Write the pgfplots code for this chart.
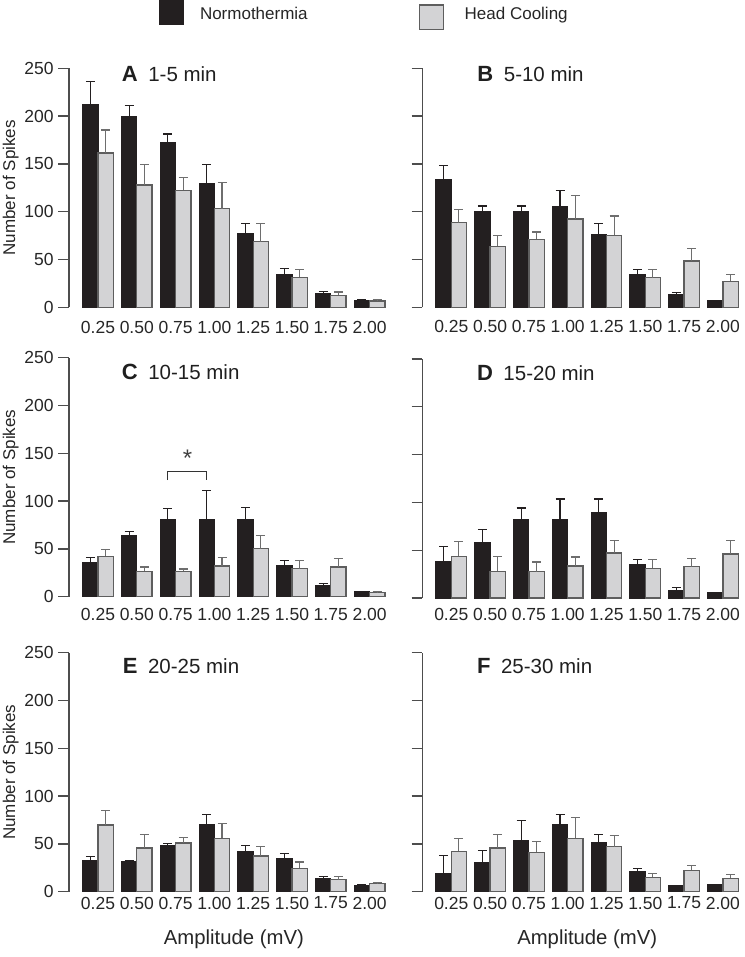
\documentclass[border=0pt]{standalone}
\usepackage{fontspec}
\setmainfont{Liberation Sans}
\usepackage{pgfplots}
\usepackage{pgfplotstable}
\pgfplotsset{compat=1.18}

\definecolor{nblack}{HTML}{231F20}
\definecolor{hfill}{HTML}{D3D3D5}
\definecolor{hdraw}{HTML}{5E5E5E}
\definecolor{herr}{HTML}{6E6E6E}
\definecolor{axisgray}{HTML}{4D4D4D}

% x  n  ne  h  he
\pgfplotstableread{
x n ne h he
0 211.8 24.7 161.5 23.9
1 200.0 11.5 128.0 21.3
2 171.9 9.4 122.2 13.2
3 129.5 19.8 103.1 27.5
4 76.7 11.1 68.8 18.4
5 34.7 5.6 31.3 8.0
6 13.9 2.4 12.5 3.5
7 7.3 0.7 6.6 1.4
}\dataA
\pgfplotstableread{
x n ne h he
0 133.3 15.3 88.5 13.5
1 100.0 5.9 63.9 11.1
2 100.0 5.9 71.2 7.6
3 105.6 16.3 92.4 24.3
4 76.0 11.5 75.3 20.2
5 34.0 5.6 30.9 8.3
6 13.5 2.1 48.3 12.8
7 6.9 0.4 27.1 7.3
}\dataB
\pgfplotstableread{
x n ne h he
0 36.0 4.6 42.3 6.7
1 64.3 3.9 26.6 4.5
2 80.4 11.9 26.6 2.4
3 80.4 31.1 32.2 8.7
4 80.4 12.6 50.3 13.7
5 32.9 5.2 29.4 8.4
6 11.9 1.7 31.1 8.8
7 4.9 0.3 4.2 1.0
}\dataC
\pgfplotstableread{
x n ne h he
0 37.7 16.3 43.6 15.7
1 58.2 13.3 27.9 15.7
2 81.6 12.5 27.5 10.2
3 81.6 22.0 33.5 9.4
4 89.6 14.0 47.1 13.2
5 34.5 5.6 31.0 9.1
6 7.7 3.5 32.8 8.7
7 5.6 0.0 46.0 14.3
}\dataD
\pgfplotstableread{
x n ne h he
0 32.9 3.8 69.9 15.1
1 31.1 1.4 45.8 13.6
2 48.3 2.4 51.0 5.6
3 70.6 10.5 55.9 15.1
4 42.0 5.9 37.4 9.8
5 34.6 5.3 24.5 6.6
6 14.0 2.1 12.6 3.1
7 6.6 0.7 8.7 0.7
}\dataE
\pgfplotstableread{
x n ne h he
0 18.8 19.2 42.1 13.3
1 30.6 12.9 45.6 13.9
2 54.0 20.2 41.1 11.8
3 70.7 10.1 55.7 21.6
4 51.9 7.6 47.0 12.2
5 21.2 3.2 15.0 3.8
6 6.3 0.0 22.3 5.2
7 7.0 0.3 13.9 3.9
}\dataF

\pgfplotsset{
  panel/.style={
    width=329.8pt, height=239pt, scale only axis,
    anchor=south west,
    xmin=-0.747, xmax=7.753, ymin=0, ymax=250,
    axis x line*=bottom, axis y line*=left,
    x axis line style={draw=none},
    xtick={0,...,7},
    xticklabels={0.25,0.50,0.75,1.00,1.25,1.50,1.75,2.00},
    xtick style={draw=none},
    ytick={0,50,...,250},
    tick align=outside, major tick length=10.7pt,
    y axis line style={line width=1.3pt, color=axisgray},
    ytick style={line width=1.3pt, color=axisgray},
    tick label style={font=\fontsize{17.5}{20}\selectfont, inner sep=0pt, text=black!85},
    yticklabel style={anchor=east, xshift=-4.5pt},
    xticklabel style={anchor=north},
    /pgf/number format/assume math mode=true,
    ybar=0pt, bar width=15.3pt,
    clip=false,
  },
  leftpanel/.style={
    ylabel={Number of Spikes},
    ylabel style={at={(axis description cs:-0.177,0.5)}, anchor=center,
      font=\fontsize{17}{20}\selectfont, text=black!85},
  },
  rightpanel/.style={yticklabels={}},
  bottompanel/.style={
    xlabel={Amplitude (mV)},
    xlabel style={at={(axis description cs:0.5,-0.219)}, anchor=base,
      font=\fontsize{20.3}{22}\selectfont, text=black!85},
  },
  nplot/.style={fill=nblack, draw=nblack, line width=1.1pt,
    error bars/.cd, y dir=plus, y explicit, error mark=|,
    error bar style={line width=1.1pt, color=nblack},
    error mark options={line width=1.1pt, color=nblack, mark size=4.5pt}},
  hplot/.style={fill=hfill, draw=hdraw, line width=1.3pt,
    error bars/.cd, y dir=plus, y explicit, error mark=|,
    error bar style={line width=1.1pt, color=herr},
    error mark options={line width=1.1pt, color=herr, mark size=4.5pt}},
}

\newcommand{\paneltitle}[4]{%
  \node[anchor=base west, inner sep=0pt, text=black!88] at (axis cs:#1,#2)
   {\fontsize{22}{22}\selectfont\bfseries #3\hspace{10.5pt}\fontsize{20.5}{22}\selectfont\mdseries #4};}

\begin{document}
\begin{tikzpicture}
\path[use as bounding box] (0,0) rectangle (744pt,957pt);

% legend
\fill[nblack] (159pt,957pt) rectangle (184.3pt,932pt);
\node[anchor=base west, inner sep=0pt, font=\fontsize{17}{20}\selectfont, text=black!85] at (199.8pt,937pt) {Normothermia};
\filldraw[fill=hfill, draw=hdraw, line width=1.3pt] (419.3pt,952pt) rectangle (443.5pt,927.5pt);
\node[anchor=base west, inner sep=0pt, font=\fontsize{17}{20}\selectfont, text=black!85] at (464.5pt,937pt) {Head Cooling};

% A
\begin{axis}[panel, leftpanel, at={(69pt,649.7pt)}, xticklabel style={yshift=-3.3pt}]
\addplot[nplot] table[x=x, y=n, y error plus=ne] {\dataA};
\addplot[hplot] table[x=x, y=h, y error plus=he] {\dataA};
\paneltitle{0.611}{236}{A}{1-5 min}
\end{axis}
% B
\begin{axis}[panel, rightpanel, at={(422.3pt,649.7pt)}, xticklabel style={yshift=-2.3pt}]
\addplot[nplot] table[x=x, y=n, y error plus=ne] {\dataB};
\addplot[hplot] table[x=x, y=h, y error plus=he] {\dataB};
\paneltitle{0.67}{236}{B}{5-10 min}
\end{axis}
% C
\begin{axis}[panel, leftpanel, at={(69pt,360.3pt)}, xticklabel style={yshift=-0.8pt}]
\addplot[nplot] table[x=x, y=n, y error plus=ne] {\dataC};
\addplot[hplot] table[x=x, y=h, y error plus=he] {\dataC};
\paneltitle{0.611}{227}{C}{10-15 min}
\draw[line width=1pt, color=black!80] (axis cs:1.803,122) -- (axis cs:1.803,131.2) -- (axis cs:2.803,131.2) -- (axis cs:2.803,122);
\node[anchor=center, inner sep=0pt, font=\fontsize{24}{24}\selectfont, text=black!75] at (axis cs:2.31,144.3) {*};
\end{axis}
% D
\begin{axis}[panel, rightpanel, at={(422.3pt,359pt)}, xticklabel style={yshift=0.7pt}]
\addplot[nplot] table[x=x, y=n, y error plus=ne] {\dataD};
\addplot[hplot] table[x=x, y=h, y error plus=he] {\dataD};
\paneltitle{0.66}{228}{D}{15-20 min}
\end{axis}
% E
\begin{axis}[panel, leftpanel, bottompanel, at={(69pt,65.3pt)}, xticklabel style={yshift=5.7pt}]
\addplot[nplot] table[x=x, y=n, y error plus=ne] {\dataE};
\addplot[hplot] table[x=x, y=h, y error plus=he] {\dataE};
\paneltitle{0.637}{228.5}{E}{20-25 min}
\end{axis}
% F
\begin{axis}[panel, rightpanel, bottompanel, at={(422.3pt,65.3pt)}, xticklabel style={yshift=5.7pt}]
\addplot[nplot] table[x=x, y=n, y error plus=ne] {\dataF};
\addplot[hplot] table[x=x, y=h, y error plus=he] {\dataF};
\paneltitle{0.66}{228.5}{F}{25-30 min}
\end{axis}
\end{tikzpicture}
\end{document}
